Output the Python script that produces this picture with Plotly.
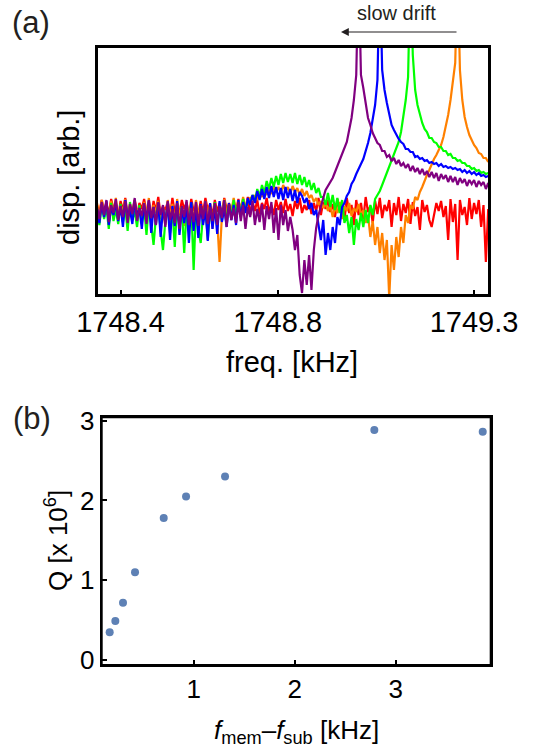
import plotly.graph_objects as go

# ---------------- Panel (a): spectra ----------------
FREQ_KHZ = [
    1748.340, 1748.346, 1748.352, 1748.358, 1748.364, 1748.370, 1748.376, 1748.382, 1748.388, 1748.394,
    1748.400, 1748.406, 1748.412, 1748.418, 1748.424, 1748.430, 1748.436, 1748.442, 1748.448, 1748.454,
    1748.460, 1748.466, 1748.472, 1748.478, 1748.484, 1748.490, 1748.496, 1748.502, 1748.508, 1748.514,
    1748.520, 1748.526, 1748.532, 1748.538, 1748.544, 1748.550, 1748.556, 1748.562, 1748.568, 1748.574,
    1748.580, 1748.586, 1748.592, 1748.598, 1748.604, 1748.610, 1748.616, 1748.622, 1748.628, 1748.634,
    1748.640, 1748.646, 1748.652, 1748.658, 1748.664, 1748.670, 1748.676, 1748.682, 1748.688, 1748.694,
    1748.700, 1748.706, 1748.712, 1748.718, 1748.724, 1748.730, 1748.736, 1748.742, 1748.748, 1748.754,
    1748.760, 1748.766, 1748.772, 1748.778, 1748.784, 1748.790, 1748.796, 1748.802, 1748.808, 1748.814,
    1748.820, 1748.826, 1748.832, 1748.838, 1748.844, 1748.850, 1748.856, 1748.862, 1748.868, 1748.874,
    1748.880, 1748.886, 1748.892, 1748.898, 1748.904, 1748.910, 1748.916, 1748.922, 1748.928, 1748.934,
    1748.940, 1748.946, 1748.952, 1748.958, 1748.964, 1748.970, 1748.976, 1748.982, 1748.988, 1748.994,
    1749.000, 1749.006, 1749.012, 1749.018, 1749.024, 1749.030, 1749.036, 1749.042, 1749.048, 1749.054,
    1749.060, 1749.066, 1749.072, 1749.078, 1749.084, 1749.090, 1749.096, 1749.102, 1749.108, 1749.114,
    1749.120, 1749.126, 1749.132, 1749.138, 1749.144, 1749.150, 1749.156, 1749.162, 1749.168, 1749.174,
    1749.180, 1749.186, 1749.192, 1749.198, 1749.204, 1749.210, 1749.216, 1749.222, 1749.228, 1749.234,
    1749.240, 1749.246, 1749.252, 1749.258, 1749.264, 1749.270, 1749.276, 1749.282, 1749.288, 1749.294,
    1749.300, 1749.306, 1749.312, 1749.318, 1749.324, 1749.330, 1749.336,
]

DISP_RED = [
    90, 82, 95, 84, 92, 80, 96, 86, 91, 78,
    94, 85, 97, 81, 89, 83, 95, 79, 92, 86,
    96, 82, 90, 77, 94, 84, 98, 80, 88, 85,
    93, 79, 97, 83, 90, 81, 95, 86, 92, 78,
    96, 84, 89, 80, 94, 82, 97, 85, 91, 79,
    95, 83, 92, 80, 97, 86, 90, 81, 94, 84,
    96, 82, 91, 85, 98, 80, 93, 84, 95, 81,
    92, 86, 97, 83, 90, 80, 95, 85, 93, 82,
    96, 84, 91, 79, 94, 86, 97, 82, 90, 85,
    95, 81, 92, 84, 97, 80, 93, 86, 95, 83,
    91, 78, 96, 84, 93, 75, 97, 82, 90, 70,
    95, 80, 92, 76, 98, 83, 89, 72, 94, 81,
    97, 77, 90, 84, 95, 68, 92, 80, 98, 74,
    91, 82, 96, 71, 93, 79, 88, 65, 95, 83,
    90, 75, 68, 80, 92, 84, 94, 78, 89, 55,
    96, 73, 91, 35, 95, 80, 88, 70, 97, 76,
    92, 81, 95, 68, 90, 33, 86,
]

DISP_ORANGE = [
    92, 78, 95, 82, 89, 75, 94, 80, 97, 77,
    90, 83, 96, 74, 91, 79, 95, 81, 88, 76,
    93, 80, 97, 73, 90, 82, 94, 76, 89, 70,
    95, 78, 91, 72, 96, 80, 88, 69, 93, 77,
    90, 74, 95, 81, 87, 72, 94, 78, 91, 66,
    89, 75, 33, 80, 96, 79, 92, 84, 97, 82,
    94, 86, 98, 88, 95, 97, 92, 100, 95, 103,
    98, 105, 100, 107, 101, 109, 103, 108, 102, 110,
    104, 108, 101, 109, 103, 107, 100, 106, 99, 104,
    97, 100, 93, 97, 90, 94, 87, 92, 84, 90,
    78, 88, 82, 93, 76, 89, 84, 92, 79, 87,
    83, 91, 80, 85, 72, 80, 58, 74, 50, 68,
    42, 62, 35, 55, -3, 50, 25, 58, 38, 68,
    52, 80, 72, 90, 86, 98, 95, 103, 108, 115,
    120, 125, 131, 136, 140, 145, 150, 158, 168, 180,
    195, 212, 232, 330, 225, 195, 178, 168, 160, 155,
    150, 147, 142, 141, 137, 137, 133,
]

DISP_GREEN = [
    85, 70, 90, 76, 88, 66, 92, 74, 86, 71,
    91, 73, 87, 64, 93, 75, 84, 68, 90, 72,
    88, 60, 92, 70, 50, 78, 89, 65, 45, 74,
    90, 62, 86, 48, 91, 67, 88, 42, 85, 70,
    92, 25, 87, 66, 52, 80, 90, 55, 86, 71,
    93, 68, 89, 74, 94, 72, 91, 78, 95, 80,
    92, 82, 96, 85, 94, 92, 100, 94, 106, 98,
    110, 102, 114, 106, 117, 108, 119, 110, 121, 112,
    122, 113, 121, 112, 122, 111, 120, 110, 118, 108,
    115, 105, 112, 102, 107, 98, 98, 90, 102, 88,
    100, 85, 97, 82, 95, 72, 80, 62, 78, 50,
    76, 65, 82, 68, 85, 72, 90, 80, 96, 100,
    104, 110, 116, 122, 128, 135, 141, 147, 153, 163,
    178, 195, 218, 330, 240, 205, 190, 180, 172, 166,
    163, 157, 157, 153, 152, 148, 148, 144, 144, 140,
    141, 137, 137, 134, 135, 132, 132, 129, 129, 126,
    127, 124, 125, 122, 123, 121, 122,
]

DISP_BLUE = [
    86, 72, 91, 78, 94, 70, 88, 80, 92, 74,
    89, 68, 95, 77, 85, 71, 93, 79, 87, 66,
    90, 75, 94, 62, 88, 70, 92, 58, 86, 73,
    91, 55, 89, 69, 94, 60, 87, 72, 90, 52,
    93, 64, 88, 57, 91, 70, 86, 54, 92, 66,
    89, 61, 94, 73, 87, 68, 92, 75, 90, 70,
    95, 78, 93, 82, 97, 90, 100, 92, 104, 95,
    106, 96, 108, 97, 109, 98, 108, 96, 107, 95,
    108, 97, 106, 94, 105, 92, 103, 99, 92, 97,
    86, 92, 80, 85, 70, 55, 75, 40, 62, 45,
    68, 52, 78, 70, 88, 92, 99, 103, 111, 115,
    121, 127, 131, 136, 143, 152, 162, 175, 190, 215,
    330, 225, 205, 192, 180, 170, 165, 160, 156, 153,
    151, 146, 146, 143, 143, 138, 139, 136, 137, 134,
    135, 132, 133, 131, 132, 129, 131, 128, 129, 127,
    128, 126, 127, 125, 126, 123, 125, 122, 124, 121,
    123, 120, 122, 119, 120, 118, 119,
]

DISP_PURPLE = [
    88, 76, 93, 80, 95, 73, 90, 82, 96, 75,
    89, 78, 94, 72, 91, 81, 97, 74, 87, 79,
    92, 71, 95, 77, 88, 70, 93, 80, 90, 68,
    94, 75, 86, 72, 92, 66, 89, 78, 95, 70,
    87, 73, 93, 69, 90, 76, 94, 71, 88, 74,
    92, 70, 89, 77, 95, 68, 91, 75, 87, 72,
    93, 74, 90, 66, 88, 78, 94, 70, 86, 73,
    91, 65, 89, 76, 93, 62, 87, 55, 90, 70,
    85, 64, 78, 65, 45, 60, 20, 2, 35, 10,
    40, 5, 45, 67, 80, 90, 97, 105, 109, 113,
    117, 123, 129, 135, 141, 145, 153, 165, 177, 195,
    220, 330, 220, 207, 190, 177, 170, 162, 157, 152,
    150, 144, 144, 138, 140, 134, 137, 131, 135, 129,
    132, 127, 131, 124, 129, 123, 127, 121, 126, 120,
    124, 118, 123, 117, 122, 114, 121, 116, 120, 113,
    119, 113, 118, 110, 117, 112, 116, 109, 115, 111,
    115, 108, 114, 110, 113, 106, 112,
]

SPECTRA = [
    ("red", DISP_RED, "#ff0000"),
    ("orange", DISP_ORANGE, "#ff8000"),
    ("green", DISP_GREEN, "#00ff00"),
    ("blue", DISP_BLUE, "#0000ff"),
    ("purple", DISP_PURPLE, "#800080"),
]
for _n, _v, _c in SPECTRA:
    assert len(_v) == len(FREQ_KHZ), (_n, len(_v))

X_TICKS_A = [1748.4, 1748.8, 1749.3]
X_TICKTEXT_A = ["1748.4", "1748.8", "1749.3"]

# ---------------- Panel (b): Q vs detuning ----------------
DF_KHZ = [0.168, 0.224, 0.300, 0.419, 0.703, 0.924, 1.310, 2.788, 3.861]
Q_1E6 = [0.35, 0.49, 0.72, 1.10, 1.78, 2.05, 2.30, 2.88, 2.86]

W, H = 538, 751
def px(x):
    return x / W
def py(y):
    return 1 - y / H

fig = go.Figure()
for name, vals, col in SPECTRA:
    fig.add_trace(go.Scatter(x=FREQ_KHZ, y=vals, mode="lines", name=name,
                             line=dict(color=col, width=2.2),
                             xaxis="x", yaxis="y", showlegend=False))
fig.add_trace(go.Scatter(x=DF_KHZ, y=Q_1E6, mode="markers",
                         marker=dict(color="#5E81B5", size=8),
                         xaxis="x2", yaxis="y2", showlegend=False))

FONT = "Liberation Sans, Arial, sans-serif"
frame = dict(showline=True, linecolor="black", linewidth=2, mirror=True,
             showgrid=False, zeroline=False, automargin=False)

fig.update_layout(
    width=W, height=H,
    margin=dict(l=0, r=0, t=0, b=0),
    showlegend=False,
    paper_bgcolor="white", plot_bgcolor="white",
    font=dict(family=FONT, color="black", size=26),
    xaxis=dict(domain=[px(97), px(489)], range=[1748.34, 1749.338],
               tickvals=X_TICKS_A, ticktext=X_TICKTEXT_A,
               ticks="inside", ticklen=5, tickwidth=1.5, tickcolor="black",
               tickfont=dict(size=29, family=FONT, color="black"),
               anchor="y", **frame),
    yaxis=dict(domain=[py(295), py(47)], range=[0, 248],
               showticklabels=False, ticks="", anchor="x", **frame),
    xaxis2=dict(domain=[px(101.7), px(490.7)], range=[0.089, 3.94],
                tickvals=[1, 2, 3], ticktext=["1", "2", "3"],
                ticks="inside", ticklen=5, tickwidth=1.5, tickcolor="black",
                tickfont=dict(size=26, family=FONT, color="black"),
                anchor="y2", **frame),
    yaxis2=dict(domain=[py(665), py(417.3)], range=[-0.06, 3.04],
                tickvals=[0, 1, 2, 3], ticktext=["0", "1", "2", "3"],
                ticks="inside", ticklen=5, tickwidth=1.5, tickcolor="black",
                tickfont=dict(size=26, family=FONT, color="black"),
                anchor="x2", **frame),
)

# panel frames (box around each plot area)
fig.add_shape(type="rect", xref="x domain", yref="y domain", x0=0, x1=1, y0=0, y1=1,
              line=dict(color="black", width=2), fillcolor="rgba(0,0,0,0)", layer="above")
fig.add_shape(type="rect", xref="x2 domain", yref="y2 domain", x0=0, x1=1, y0=0, y1=1,
              line=dict(color="black", width=2), fillcolor="rgba(0,0,0,0)", layer="above")

ann = []
ann.append(dict(text="freq. [kHz]", x=px(292), y=py(362), xref="paper", yref="paper",
                showarrow=False, font=dict(size=29, family=FONT, color="black"),
                xanchor="center", yanchor="middle"))
ann.append(dict(text="disp. [arb.]", x=px(69), y=py(178), xref="paper", yref="paper",
                showarrow=False, textangle=-90, font=dict(size=29, family=FONT, color="black"),
                xanchor="center", yanchor="middle"))
ann.append(dict(text="(a)", x=px(31), y=py(22), xref="paper", yref="paper",
                showarrow=False, font=dict(size=31, family=FONT, color="#231f20"),
                xanchor="center", yanchor="middle"))
ann.append(dict(text="slow drift", x=px(396), y=py(13), xref="paper", yref="paper",
                showarrow=False, font=dict(size=20, family=FONT, color="#231f20"),
                xanchor="center", yanchor="middle"))
ann.append(dict(text="", x=px(341), y=py(32), xref="paper", yref="paper",
                showarrow=True, ax=117, ay=0, arrowhead=2, arrowsize=1.3,
                arrowwidth=1.2, arrowcolor="#231f20", font=dict(size=12)))
ann.append(dict(text="(b)", x=px(32), y=py(418), xref="paper", yref="paper",
                showarrow=False, font=dict(size=31, family=FONT, color="#231f20"),
                xanchor="center", yanchor="middle"))
ann.append(dict(text="Q [x 10<sup>6</sup>]", x=px(56), y=py(541), xref="paper", yref="paper",
                showarrow=False, textangle=-90, font=dict(size=26, family=FONT, color="black"),
                xanchor="center", yanchor="middle"))
ann.append(dict(text="<i>f</i><sub>mem</sub>\u2013<i>f</i><sub>sub</sub> [kHz]",
                x=px(296), y=py(731), xref="paper", yref="paper",
                showarrow=False, font=dict(size=26, family=FONT, color="black"),
                xanchor="center", yanchor="middle"))
fig.update_layout(annotations=ann)

fig.write_html("out.html")
